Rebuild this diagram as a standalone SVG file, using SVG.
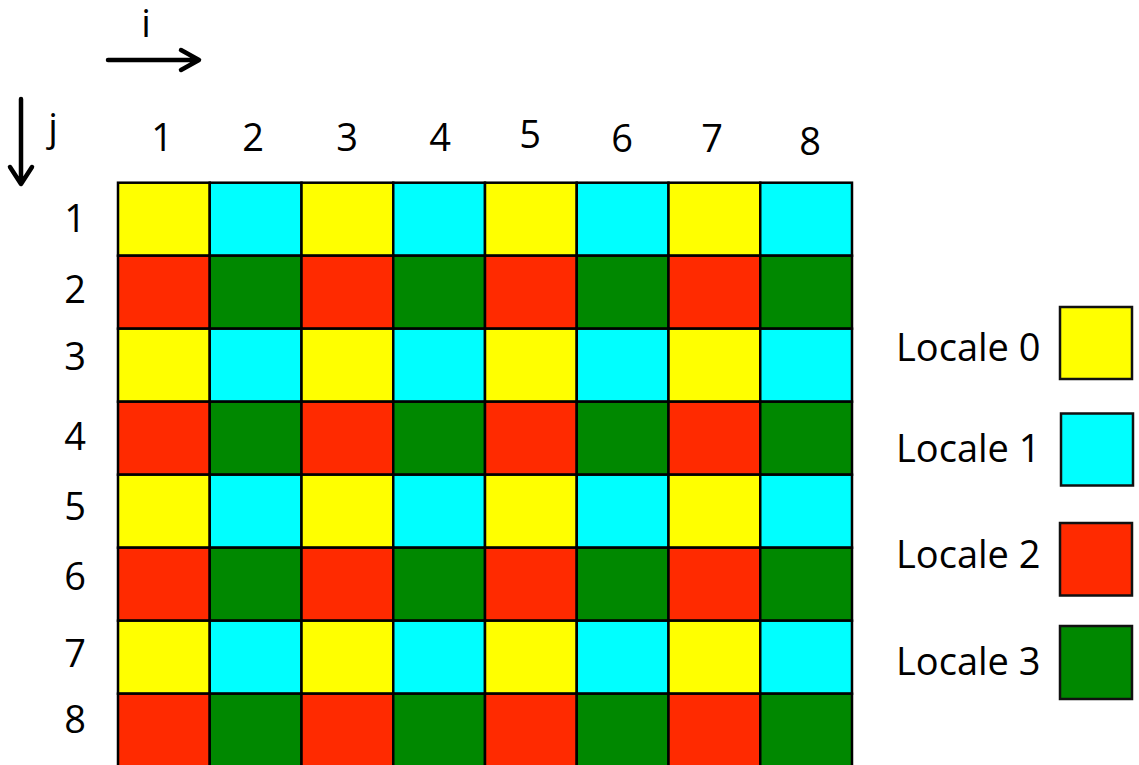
<svg xmlns="http://www.w3.org/2000/svg" width="1139" height="765" viewBox="0 0 1139 765">
<style>
text{font-family:"Open Sans","Liberation Sans",sans-serif;font-size:38px;fill:#000}
.c{text-anchor:middle}
.cell{stroke:#000;stroke-width:2.5}
.y{fill:#FFFF00}.b{fill:#00FFFF}.r{fill:#FF2A00}.g{fill:#008800}
.leg{stroke:#111;stroke-width:2.5}
.ar{fill:none;stroke:#000;stroke-width:4.5;stroke-linecap:round;stroke-linejoin:round}
</style>
<rect width="1139" height="765" fill="#fff"/>
<g id="connectors">
<path class="ar" d="M108,60 H198 M181,50 L199,60 L181,70"/>
<path class="ar" d="M21,99 V183 M10,167 L21,184 L32,167"/>
</g>
<g id="axis-labels">
<text x="146" y="37" class="c" font-size="36">i</text>
<text x="53" y="141" class="c">j</text>
</g>
<g id="col-labels">
<text x="162" y="151" class="c">1</text>
<text x="253" y="151" class="c">2</text>
<text x="347" y="151" class="c">3</text>
<text x="440" y="151" class="c">4</text>
<text x="530" y="148" class="c">5</text>
<text x="622" y="152" class="c">6</text>
<text x="712" y="152" class="c">7</text>
<text x="810" y="155" class="c">8</text>
</g>
<g id="row-labels">
<text x="75" y="232" class="c">1</text>
<text x="75" y="303" class="c">2</text>
<text x="75" y="370" class="c">3</text>
<text x="75" y="450" class="c">4</text>
<text x="75" y="520" class="c">5</text>
<text x="75" y="590" class="c">6</text>
<text x="75" y="667" class="c">7</text>
<text x="75" y="733" class="c">8</text>
</g>
<g id="grid">
<g id="row1">
<rect class="cell y" x="118" y="182.7" width="91.75" height="73"/>
<rect class="cell b" x="209.75" y="182.7" width="91.75" height="73"/>
<rect class="cell y" x="301.5" y="182.7" width="91.75" height="73"/>
<rect class="cell b" x="393.25" y="182.7" width="91.75" height="73"/>
<rect class="cell y" x="485" y="182.7" width="91.75" height="73"/>
<rect class="cell b" x="576.75" y="182.7" width="91.75" height="73"/>
<rect class="cell y" x="668.5" y="182.7" width="91.75" height="73"/>
<rect class="cell b" x="760.25" y="182.7" width="91.75" height="73"/>
</g>
<g id="row2">
<rect class="cell r" x="118" y="255.7" width="91.75" height="73"/>
<rect class="cell g" x="209.75" y="255.7" width="91.75" height="73"/>
<rect class="cell r" x="301.5" y="255.7" width="91.75" height="73"/>
<rect class="cell g" x="393.25" y="255.7" width="91.75" height="73"/>
<rect class="cell r" x="485" y="255.7" width="91.75" height="73"/>
<rect class="cell g" x="576.75" y="255.7" width="91.75" height="73"/>
<rect class="cell r" x="668.5" y="255.7" width="91.75" height="73"/>
<rect class="cell g" x="760.25" y="255.7" width="91.75" height="73"/>
</g>
<g id="row3">
<rect class="cell y" x="118" y="328.7" width="91.75" height="73"/>
<rect class="cell b" x="209.75" y="328.7" width="91.75" height="73"/>
<rect class="cell y" x="301.5" y="328.7" width="91.75" height="73"/>
<rect class="cell b" x="393.25" y="328.7" width="91.75" height="73"/>
<rect class="cell y" x="485" y="328.7" width="91.75" height="73"/>
<rect class="cell b" x="576.75" y="328.7" width="91.75" height="73"/>
<rect class="cell y" x="668.5" y="328.7" width="91.75" height="73"/>
<rect class="cell b" x="760.25" y="328.7" width="91.75" height="73"/>
</g>
<g id="row4">
<rect class="cell r" x="118" y="401.7" width="91.75" height="73"/>
<rect class="cell g" x="209.75" y="401.7" width="91.75" height="73"/>
<rect class="cell r" x="301.5" y="401.7" width="91.75" height="73"/>
<rect class="cell g" x="393.25" y="401.7" width="91.75" height="73"/>
<rect class="cell r" x="485" y="401.7" width="91.75" height="73"/>
<rect class="cell g" x="576.75" y="401.7" width="91.75" height="73"/>
<rect class="cell r" x="668.5" y="401.7" width="91.75" height="73"/>
<rect class="cell g" x="760.25" y="401.7" width="91.75" height="73"/>
</g>
<g id="row5">
<rect class="cell y" x="118" y="474.7" width="91.75" height="73"/>
<rect class="cell b" x="209.75" y="474.7" width="91.75" height="73"/>
<rect class="cell y" x="301.5" y="474.7" width="91.75" height="73"/>
<rect class="cell b" x="393.25" y="474.7" width="91.75" height="73"/>
<rect class="cell y" x="485" y="474.7" width="91.75" height="73"/>
<rect class="cell b" x="576.75" y="474.7" width="91.75" height="73"/>
<rect class="cell y" x="668.5" y="474.7" width="91.75" height="73"/>
<rect class="cell b" x="760.25" y="474.7" width="91.75" height="73"/>
</g>
<g id="row6">
<rect class="cell r" x="118" y="547.7" width="91.75" height="73"/>
<rect class="cell g" x="209.75" y="547.7" width="91.75" height="73"/>
<rect class="cell r" x="301.5" y="547.7" width="91.75" height="73"/>
<rect class="cell g" x="393.25" y="547.7" width="91.75" height="73"/>
<rect class="cell r" x="485" y="547.7" width="91.75" height="73"/>
<rect class="cell g" x="576.75" y="547.7" width="91.75" height="73"/>
<rect class="cell r" x="668.5" y="547.7" width="91.75" height="73"/>
<rect class="cell g" x="760.25" y="547.7" width="91.75" height="73"/>
</g>
<g id="row7">
<rect class="cell y" x="118" y="620.7" width="91.75" height="73"/>
<rect class="cell b" x="209.75" y="620.7" width="91.75" height="73"/>
<rect class="cell y" x="301.5" y="620.7" width="91.75" height="73"/>
<rect class="cell b" x="393.25" y="620.7" width="91.75" height="73"/>
<rect class="cell y" x="485" y="620.7" width="91.75" height="73"/>
<rect class="cell b" x="576.75" y="620.7" width="91.75" height="73"/>
<rect class="cell y" x="668.5" y="620.7" width="91.75" height="73"/>
<rect class="cell b" x="760.25" y="620.7" width="91.75" height="73"/>
</g>
<g id="row8">
<rect class="cell r" x="118" y="693.7" width="91.75" height="73"/>
<rect class="cell g" x="209.75" y="693.7" width="91.75" height="73"/>
<rect class="cell r" x="301.5" y="693.7" width="91.75" height="73"/>
<rect class="cell g" x="393.25" y="693.7" width="91.75" height="73"/>
<rect class="cell r" x="485" y="693.7" width="91.75" height="73"/>
<rect class="cell g" x="576.75" y="693.7" width="91.75" height="73"/>
<rect class="cell r" x="668.5" y="693.7" width="91.75" height="73"/>
<rect class="cell g" x="760.25" y="693.7" width="91.75" height="73"/>
</g>
</g>
<g id="legend-0">
<text x="896" y="361">Locale 0</text>
<rect class="leg y" x="1060" y="307" width="72" height="72"/>
</g>
<g id="legend-1">
<text x="896" y="462">Locale 1</text>
<rect class="leg b" x="1061" y="413.5" width="72" height="72"/>
</g>
<g id="legend-2">
<text x="896" y="568">Locale 2</text>
<rect class="leg r" x="1060" y="523" width="72" height="72.5"/>
</g>
<g id="legend-3">
<text x="896" y="675">Locale 3</text>
<rect class="leg g" x="1060" y="626" width="72" height="73"/>
</g>
</svg>
